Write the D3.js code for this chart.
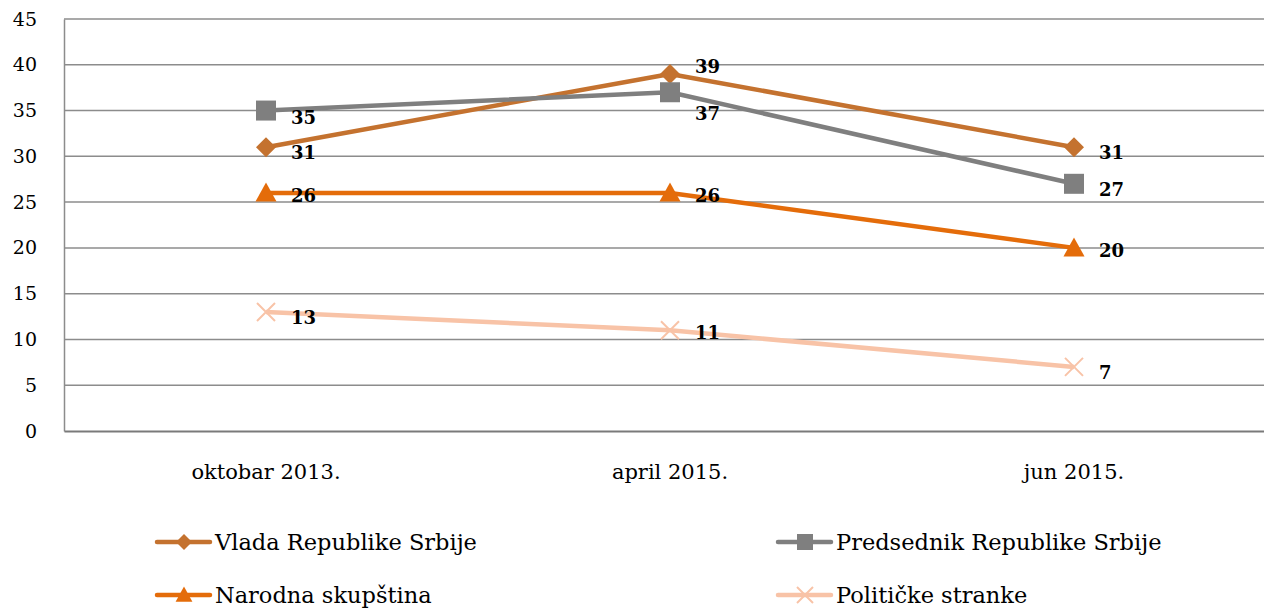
<!DOCTYPE html>
<html>
<head>
<meta charset="utf-8">
<script src="https://cdn.jsdelivr.net/npm/d3@7"></script>
<style>
  body { margin: 0; background: #fff; }
  svg { display: block; }
  svg text { font-family: "DejaVu Serif", "Liberation Serif", serif; }
</style>
</head>
<body>
<svg id="chart" width="1264" height="608"></svg>
<script>
// categories on the x axis
const categories = ["oktobar 2013.", "april 2015.", "jun 2015."];
const yTicks = [0, 5, 10, 15, 20, 25, 30, 35, 40, 45];

// series values
const vlada = [31, 39, 31];
const predsednik = [35, 37, 27];
const skupstina = [26, 26, 20];
const stranke = [13, 11, 7];

const seriesNames = ["Vlada Republike Srbije", "Predsednik Republike Srbije", "Narodna skupština", "Političke stranke"];

// label placement per point: [dx, dy] relative to marker
const labelPos = {
  "Vlada Republike Srbije": [[25, 12], [25, -1], [25, 12]],
  "Predsednik Republike Srbije": [[25, 13], [25, 28], [25, 12]],
  "Narodna skupština": [[25, 9], [25, 9], [25, 9]],
  "Političke stranke": [[25, 12], [25, 9], [25, 12]]
};

const series = [
  { name: seriesNames[0], values: vlada, color: "#C4722F", marker: "diamond" },
  { name: seriesNames[1], values: predsednik, color: "#7F7F7F", marker: "square" },
  { name: seriesNames[2], values: skupstina, color: "#E46C0A", marker: "triangle" },
  { name: seriesNames[3], values: stranke, color: "#F8C3A7", marker: "cross" }
];

const svg = d3.select("#chart");
const plotLeft = 64, plotRight = 1276, plotTop = 19, plotBottom = 431;

const x = d3.scaleBand().domain(categories).range([plotLeft, plotRight]);
const y = d3.scaleLinear().domain([0, 45]).range([plotBottom, plotTop]);
const cx = (c) => x(c) + x.bandwidth() / 2;

// gridlines
svg.append("g")
  .selectAll("line")
  .data(yTicks.filter(d => d > 0))
  .enter()
  .append("line")
  .attr("x1", plotLeft).attr("x2", plotRight)
  .attr("y1", d => y(d)).attr("y2", d => y(d))
  .attr("stroke", "#8C8C8C")
  .attr("stroke-width", 1.5);

// y axis
const yAxis = svg.append("g")
  .attr("transform", `translate(${plotLeft},0)`)
  .call(d3.axisLeft(y).tickValues(yTicks).tickSize(0).tickPadding(27));
yAxis.attr("font-family", null);
yAxis.select(".domain").attr("stroke", "#8C8C8C").attr("stroke-width", 1.5);
yAxis.selectAll("text")
  .attr("font-size", 19)
  .attr("fill", "#000");

// x axis
const xAxis = svg.append("g")
  .attr("transform", `translate(0,${plotBottom})`)
  .call(d3.axisBottom(x).tickSize(0).tickPadding(33));
xAxis.attr("font-family", null);
xAxis.select(".domain").attr("stroke", "#7A7A7A").attr("stroke-width", 1.8);
xAxis.selectAll("text")
  .attr("font-size", 21)
  .attr("fill", "#000");

function drawMarker(g, type, color, px, py, s) {
  if (type === "diamond") {
    g.append("path")
      .attr("d", `M${px},${py - s}L${px + s},${py}L${px},${py + s}L${px - s},${py}Z`)
      .attr("fill", color);
  } else if (type === "square") {
    g.append("rect")
      .attr("x", px - s).attr("y", py - s)
      .attr("width", 2 * s).attr("height", 2 * s)
      .attr("fill", color);
  } else if (type === "triangle") {
    g.append("path")
      .attr("d", `M${px},${py - s * 1.05}L${px + s * 1.05},${py + s * 0.85}L${px - s * 1.05},${py + s * 0.85}Z`)
      .attr("fill", color);
  } else {
    g.append("path")
      .attr("d", `M${px - s},${py - s}L${px + s},${py + s}M${px + s},${py - s}L${px - s},${py + s}`)
      .attr("stroke", color)
      .attr("stroke-width", 2);
  }
}

const line = d3.line()
  .x((d, i) => cx(categories[i]))
  .y(d => y(d));

series.forEach(s => {
  const g = svg.append("g");
  g.append("path")
    .datum(s.values)
    .attr("d", line)
    .attr("fill", "none")
    .attr("stroke", s.color)
    .attr("stroke-width", 4.5)
    .attr("stroke-linejoin", "round");
  s.values.forEach((v, i) => {
    const size = s.marker === "cross" ? 9 : 10;
    drawMarker(g, s.marker, s.color, cx(categories[i]), y(v), size);
  });
});

// data labels on top
series.forEach(s => {
  svg.append("g")
    .selectAll("text")
    .data(s.values)
    .enter()
    .append("text")
    .attr("x", (d, i) => cx(categories[i]) + labelPos[s.name][i][0])
    .attr("y", (d, i) => y(d) + labelPos[s.name][i][1])
    .attr("font-size", 18)
    .attr("font-weight", "bold")
    .attr("fill", "#000")
    .text(d => d);
});

// legend
const legendPos = [[157, 542], [778, 542], [157, 595], [778, 595]];
series.forEach((s, i) => {
  const [lx, ly] = legendPos[i];
  const g = svg.append("g");
  g.append("line")
    .attr("x1", lx).attr("x2", lx + 53)
    .attr("y1", ly).attr("y2", ly)
    .attr("stroke", s.color)
    .attr("stroke-width", 4.5)
    .attr("stroke-linecap", "round");
  drawMarker(g, s.marker, s.color, lx + 27, ly, 8);
  g.append("text")
    .attr("x", lx + 58)
    .attr("y", ly + 8)
    .attr("font-size", 22.5)
    .attr("fill", "#000")
    .text(s.name);
});
</script>
</body>
</html>
